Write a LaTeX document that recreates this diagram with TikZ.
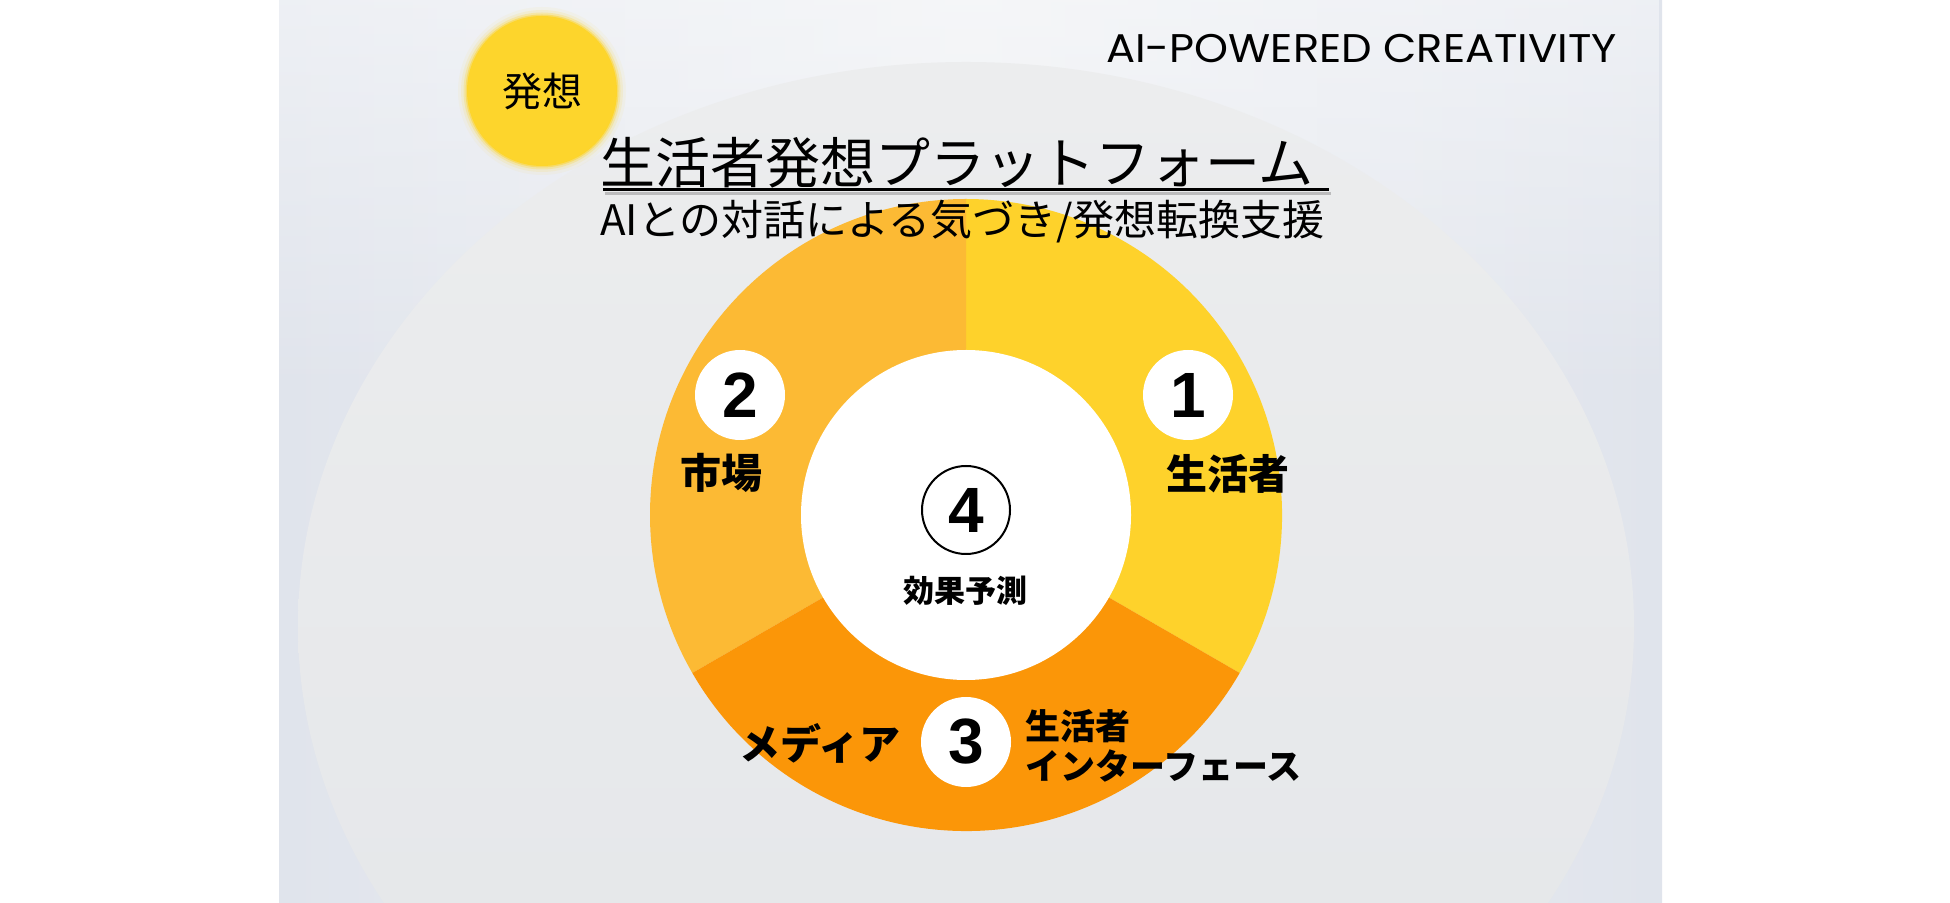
\documentclass[tikz,border=0pt]{standalone}
\usepackage{fontspec}
\usetikzlibrary{fadings}
\newfontfamily\jp{Noto Sans CJK JP}
\newfontfamily\popp[FakeStretch=1.08]{Poppins}
\newfontfamily\lib{Liberation Sans}
\definecolor{bgedge}{HTML}{E0E4EC}
\definecolor{bgmid}{HTML}{EDEFF3}
\definecolor{elltop}{HTML}{ECEDEE}
\definecolor{ellbot}{HTML}{E4E6E9}
\definecolor{segA}{HTML}{FED22B}
\definecolor{segB}{HTML}{FCBA34}
\definecolor{segC}{HTML}{FB9608}
\definecolor{hassou}{HTML}{FDD52C}
\tikzset{
  lbl/.style={inner sep=0pt, font=\jp\bfseries\fontsize{41}{48}\selectfont},
  numdisc/.style={circle, fill=white, minimum size=90pt, inner sep=0pt,
    font=\lib\bfseries\fontsize{64}{70}\selectfont},
  titlefont/.style={inner sep=0pt, anchor=west, font=\jp\fontsize{55}{60}\selectfont},
  subfont/.style={inner sep=0pt, anchor=west, font=\jp\fontsize{42}{48}\selectfont},
}
\begin{document}
\begin{tikzpicture}[x=1pt,y=1pt]
\useasboundingbox (0,0) rectangle (1950,902);
\fill[white] (0,0) rectangle (1950,902);
% slide background
\shade[left color=bgedge, right color=bgedge, middle color=bgmid] (279,0) rectangle (1662,902);
\fill[white, opacity=0.45, path fading=south] (279,500) rectangle (1662,902);
% big ellipse
\shade[top color=elltop, bottom color=ellbot] (966,276) ellipse [x radius=668, y radius=564];
% donut segments
\coordinate (c) at (966,387);
\fill[segA] (c) -- ++(-30:316) arc[start angle=-30, end angle=90, radius=316] -- cycle;
\fill[segB] (c) -- ++(90:316) arc[start angle=90, end angle=210, radius=316] -- cycle;
\fill[segC] (c) -- ++(210:316) arc[start angle=210, end angle=330, radius=316] -- cycle;
\fill[white] (c) circle (165);
% hassou circle with soft glow
\foreach \r/\o in {84/0.06, 81/0.12, 78.5/0.25, 76.5/0.5} { \fill[hassou, opacity=\o] (542,811) circle (\r); }
\node[circle, fill=hassou, minimum size=150pt, inner sep=0pt, font=\jp\fontsize{40}{46}\selectfont] (hassou) at (542,811) {発想};
% brand
\node[inner sep=0pt, anchor=base west, font=\popp\fontsize{40}{48}\selectfont] (brand) at (1106,839) {AI-POWERED CREATIVITY};
% title
\node[titlefont] (title) at (600,739) {生活者発想プラットフォーム};
\coordinate (ulA) at (603,712);
\coordinate (ulB) at (1329,712);
\draw[line width=3pt, black, opacity=0.2] ([shift={(2,-4)}]ulA) -- ([shift={(2,-4)}]ulB);
\draw[line width=3pt, black] (ulA) -- (ulB);
\node[subfont] (subtitle) at (600,680) {AIとの対話による気づき/発想転換支援};
% number discs
\node[numdisc] (n1) at (1188,507) {1};
\node[numdisc] (n2) at (740,507) {2};
\node[numdisc] (n3) at (966,160) {3};
\node[numdisc, draw=black, line width=2pt, minimum size=88pt] (n4) at (966,392) {4};
% labels
\node[lbl] (l1) at (1228,428) {生活者};
\node[lbl] (l2) at (721,429) {市場};
\node[lbl] (l3a) at (820,159) {メディア};
\node[lbl, anchor=west, align=left, font=\jp\bfseries\fontsize{35}{40}\selectfont] (l3b) at (1025,156) {生活者\\インターフェース};
\node[lbl, font=\jp\bfseries\fontsize{31}{36}\selectfont] (eff) at (965,311) {効果予測};
\end{tikzpicture}
\end{document}
